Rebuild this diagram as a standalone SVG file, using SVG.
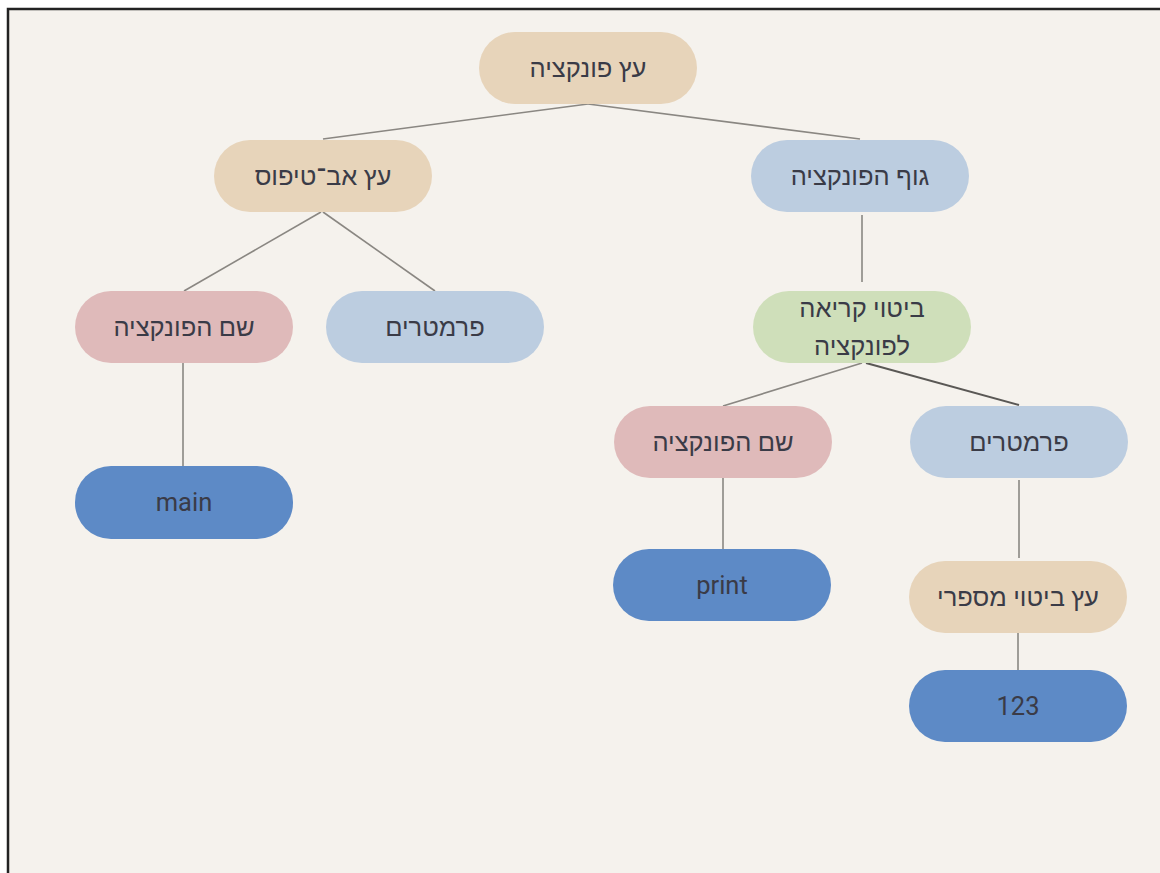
<svg xmlns="http://www.w3.org/2000/svg" width="1160" height="873" viewBox="0 0 1160 873">
<style>
.n{stroke:none}
.tan{fill:#e7d4ba}
.blue{fill:#bccde0}
.pink{fill:#dfbaba}
.green{fill:#cfdfba}
.dark{fill:#5d8ac6}
text{font-family:Roboto,"Liberation Sans","DejaVu Sans",sans-serif;font-size:25.5px;fill:#3a3b47;text-anchor:middle;dominant-baseline:central}
.c line{stroke:#8a8782;stroke-width:1.6}
</style>
<rect x="0" y="0" width="1160" height="873" fill="#ffffff"/>
<rect x="8" y="9" width="1160" height="880" fill="#f5f2ed" stroke="#222" stroke-width="2.5"/>
<g class="c" id="connectors">
<line x1="588" y1="104" x2="323" y2="139"/>
<line x1="588" y1="104" x2="860" y2="139"/>
<line x1="321" y1="212" x2="184" y2="291"/>
<line x1="323" y1="212" x2="435" y2="291"/>
<line x1="862" y1="215" x2="862" y2="282"/>
<line x1="183" y1="363" x2="183" y2="466"/>
<line x1="862" y1="363" x2="723" y2="406"/>
<line x1="866" y1="363" x2="1019" y2="405" style="stroke:#5a5855;stroke-width:2"/>
<line x1="723" y1="478" x2="723" y2="549"/>
<line x1="1019" y1="480" x2="1019" y2="558"/>
<line x1="1018" y1="633" x2="1018" y2="670"/>
</g>
<g id="root"><rect class="n tan" x="479" y="32" width="218" height="72" rx="36"/><text x="588" y="68">עץ פונקציה</text></g>
<g id="prototype"><rect class="n tan" x="214" y="140" width="218" height="72" rx="36"/><text x="323" y="176">עץ אב־טיפוס</text></g>
<g id="body"><rect class="n blue" x="751" y="140" width="218" height="72" rx="36"/><text x="860" y="176">גוף הפונקציה</text></g>
<g id="fname1"><rect class="n pink" x="75" y="291" width="218" height="72" rx="36"/><text x="184" y="327">שם הפונקציה</text></g>
<g id="params1"><rect class="n blue" x="326" y="291" width="218" height="72" rx="36"/><text x="435" y="327">פרמטרים</text></g>
<g id="call"><rect class="n green" x="753" y="291" width="218" height="72" rx="36"/><text x="862" y="308">ביטוי קריאה</text><text x="862" y="346">לפונקציה</text></g>
<g id="main"><rect class="n dark" x="75" y="466" width="218" height="73" rx="36"/><text x="184" y="502">main</text></g>
<g id="fname2"><rect class="n pink" x="614" y="406" width="218" height="72" rx="36"/><text x="723" y="442">שם הפונקציה</text></g>
<g id="params2"><rect class="n blue" x="910" y="406" width="218" height="72" rx="36"/><text x="1019" y="442">פרמטרים</text></g>
<g id="print"><rect class="n dark" x="613" y="549" width="218" height="72" rx="36"/><text x="722" y="585">print</text></g>
<g id="numtree"><rect class="n tan" x="909" y="561" width="218" height="72" rx="36"/><text x="1018" y="597">עץ ביטוי מספרי</text></g>
<g id="num"><rect class="n dark" x="909" y="670" width="218" height="72" rx="36"/><text x="1018" y="706">123</text></g>
</svg>
